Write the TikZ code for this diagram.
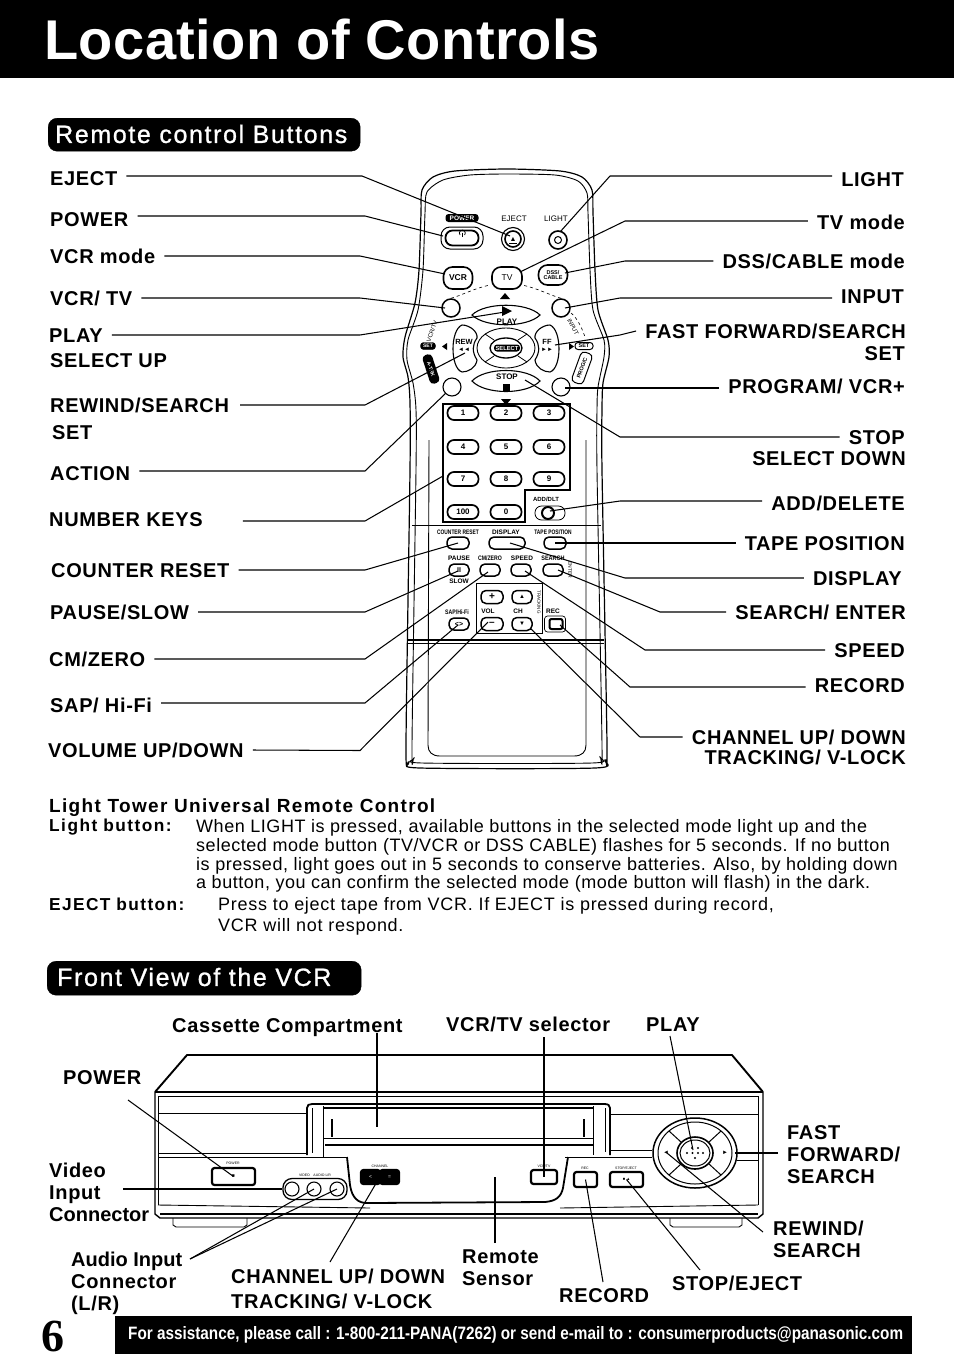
\documentclass[tikz,border=0pt]{standalone}
\usepackage{graphicx}
\usepackage{fontspec}
\setmainfont{Liberation Sans}
\newfontfamily\serifsix{Liberation Serif}
\usetikzlibrary{calc}
\tikzset{
 leader/.style={line width=1.05pt,line join=miter},
 lab/.style={font=\bfseries\fontsize{20}{22}\selectfont\addfontfeature{LetterSpace=3.2},inner ysep=0pt,inner xsep=9pt,text height=14pt,text depth=0pt},
 labl/.style={lab,anchor=west,xshift=-9pt},
 labr/.style={lab,anchor=east,xshift=9pt},
 body/.style={font=\fontsize{18}{20}\selectfont\addfontfeature{LetterSpace=3},anchor=west,inner sep=0pt,text height=12pt,text depth=0pt},
 bodyb/.style={body,font=\bfseries\fontsize{17.3}{20}\selectfont\addfontfeature{LetterSpace=8.5}},
 head/.style={font=\fontsize{25}{28}\selectfont\addfontfeature{LetterSpace=6.5,FakeBold=1},text=white,anchor=west,inner sep=0pt},
 pill/.style={fill=black,rounded corners=9pt,draw=black},
 rbtn/.style={draw,line width=1.5pt,rounded corners=5pt,minimum width=#1,minimum height=12pt,inner sep=0pt,fill=white},
 rbtn/.default=22pt,
 num/.style={draw,line width=1.7pt,rounded corners=6.5pt,minimum width=31pt,minimum height=14pt,inner sep=0pt,fill=white,font=\bfseries\fontsize{8}{9}\selectfont},
 circ/.style={draw,circle,line width=1.1pt,minimum size=#1,inner sep=0pt,fill=white},
 oval/.style={draw,line width=1.6pt,rounded corners=9pt,inner sep=0pt,fill=white,font=\bfseries\fontsize{8.5}{9}\selectfont},
 tiny/.style={font=\bfseries\fontsize{6.5}{7}\selectfont,inner sep=0pt},
 vbtn/.style={draw,line width=2.2pt,rounded corners=2.5pt,inner sep=0pt,fill=white},
 rl/.style={line width=0.9pt},
 vl/.style={line width=0.9pt},
 vt/.style={line width=2pt},
}
\begin{document}
\begin{tikzpicture}[x=1pt,y=-1pt]
\useasboundingbox (0,0) rectangle (954,1366);
% header
\node[fill=black,minimum width=954pt,minimum height=78pt,inner sep=0pt,anchor=north west] (band) at (0,0) {};
\node[font=\fontsize{56}{60}\selectfont\bfseries\addfontfeature{LetterSpace=0.8},text=white,anchor=west,inner sep=0pt] (title) at (44,39) {Location of Controls};
\node[pill,minimum width=312pt,minimum height=33pt,anchor=north west,inner sep=0pt] (pillA) at (48,118) {};
\node[head] (headA) at (55,134) {Remote control Buttons};
% remote body
\draw[line width=1.2pt] plot[smooth cycle,tension=.45] coordinates {(507,169) (560,171) (582,177) (592,190) (593,213) (595,270) (598,310) (608,340) (609,357) (603,383) (602,410) (602,470) (607,745) (605,760) (595,768) (420,768) (409,762) (406,745) (410,470) (410,403) (408,377) (403,357) (405,337) (415,303) (419,270) (421,213) (422,190) (433,177) (455,171)};
\draw[rl] plot[smooth cycle,tension=.45] coordinates {(507,174) (555,175) (578,181) (587,193) (588,213) (590,270) (593,310) (604,340) (604,357) (598,387) (597,410) (597,470) (602,745) (600,757) (592,763) (422,763) (414,758) (412,745) (416,470) (416,410) (413,383) (407,360) (408,340) (418,310) (423,270) (425,213) (427,192) (443,180) (470,175)};
\draw[rl] (429,440) -- (428,745) .. controls (428,752) and (432,756) .. (440,756) -- (574,756) .. controls (582,756) and (586,752) .. (586,745) -- (586,440);
\draw[rl] (412,525.5) -- (601,525.5);
\draw[rl,line width=1.2pt] (408,640) -- (604,640);
\draw[rl,line width=0.6pt] (408,643) -- (604,643);
% top of remote
\node[fill=black,rounded corners=3pt,text=white,font=\bfseries\fontsize{6.5}{7}\selectfont,minimum width=33pt,minimum height=8pt,inner sep=0pt] (kPowerLab) at (462,218) {POWER};
\node[tiny,font=\fontsize{8}{9}\selectfont] (kEjectLab) at (514,219) {EJECT};
\node[tiny,font=\fontsize{8}{9}\selectfont] (kLightLab) at (556,219) {LIGHT};
\node[draw,line width=1pt,rounded corners=9pt,minimum width=42pt,minimum height=22pt,inner sep=0pt] (kPowerO) at (462,238) {};
\node[draw,line width=1.8pt,rounded corners=7pt,minimum width=33pt,minimum height=15pt,inner sep=0pt] (kPower) at (462,238) {};
\draw[line width=0.8pt] (460,235) arc[start angle=220,end angle=-40,radius=3pt];
\draw[line width=0.8pt] (462.3,232.5) -- (462.3,237);
\node[circ=23pt] (kEjectO) at (513,239) {};
\node[circ=16pt,line width=1.6pt,font=\fontsize{7}{7}\selectfont] (kEject) at (513,239) {\bfseries ▲};
\draw[line width=1pt] (509,243.5) -- (517,243.5);
\node[circ=18pt,line width=1.6pt] (kLight) at (558,240) {};
\node[circ=7pt,line width=1pt] (kLightI) at (558,240) {};
\node[oval,minimum width=29pt,minimum height=22pt] (kVCR) at (458,278) {VCR};
\node[oval,minimum width=30pt,minimum height=22pt,font=\fontsize{8.5}{9}\selectfont] (kTV) at (507,278) {TV};
\node[oval,minimum width=29pt,minimum height=20pt,font=\bfseries\fontsize{5.5}{5.5}\selectfont,align=center] (kDSS) at (553,275) {DSS/\\CABLE};
\node[circ=18pt,line width=1.5pt] (kVcrTv) at (451,308) {};
\node[circ=18pt,line width=1.5pt] (kInput) at (561,308) {};
\node[circ=18pt,line width=1.1pt] (kAction) at (452,387) {};
\node[circ=18pt,line width=1.1pt] (kProg) at (561,387) {};
\draw[dashed,line width=0.6pt] (kVcrTv.north) .. controls (460,296) and (475,288) .. (490,285);
\draw[dashed,line width=0.6pt] (kInput.north) .. controls (552,296) and (537,288) .. (522,285);
\draw[dashed,line width=0.6pt] (571,313) .. controls (576,317) and (581,325) .. (585,337);
\fill (505,293) -- (510,299) -- (500,299) -- cycle;
% pad
\draw[line width=1.1pt] (472,315) .. controls (485,302) and (527,302) .. (540,315) .. controls (527,328) and (485,328) .. (472,315) -- cycle;
\draw[line width=1.1pt] (472,381) .. controls (485,367) and (527,367) .. (540,381) .. controls (527,395) and (485,395) .. (472,381) -- cycle;
\draw[line width=1.1pt] (462,325) .. controls (470,325) and (478,332) .. (477,338) .. controls (472,345) and (472,352) .. (477,360) .. controls (476,368) and (468,372) .. (462,372) .. controls (450,368) and (450,330) .. (462,325) -- cycle;
\draw[line width=1.1pt] (550,325) .. controls (542,325) and (534,332) .. (535,338) .. controls (540,345) and (540,352) .. (535,360) .. controls (536,368) and (544,372) .. (550,372) .. controls (562,368) and (562,330) .. (550,325) -- cycle;
\draw[rl] (506,348) ellipse[x radius=29pt,y radius=20pt];
\draw[rl,line width=1.3pt] (506,348) ellipse[x radius=16pt,y radius=10pt];
\draw[rl,line width=0.8pt] (485,334) -- (494,340) (527,334) -- (518,340) (485,362) -- (494,356) (527,362) -- (518,356);
\node[fill=black,rounded corners=3pt,text=white,font=\bfseries\fontsize{5.8}{6}\selectfont,minimum width=26pt,minimum height=7pt,inner sep=0pt] (kSelect) at (507,348) {SELECT};
\node[tiny,font=\bfseries\fontsize{8}{8}\selectfont] (kPlayLab) at (507,322) {PLAY};
\fill (502,306) -- (512,311) -- (502,316) -- cycle;
\node[tiny,font=\bfseries\fontsize{8}{8}\selectfont] (kStopLab) at (507,377) {STOP};
\fill (503,384) rectangle (510,391);
\fill (501,399) -- (511,399) -- (506,405) -- cycle;
\node[tiny,font=\bfseries\fontsize{7.5}{8}\selectfont] (kRewLab) at (464,342) {REW};
\node[tiny,font=\bfseries\fontsize{7.5}{8}\selectfont] (kFFLab) at (547,342) {FF};
\node[tiny,font=\fontsize{6}{6}\selectfont,text=black] (kRewS) at (464,350) {◄◄};
\node[tiny,font=\fontsize{6}{6}\selectfont,text=black] (kFFS) at (547,350) {►►};
\node[draw,fill=black,rounded corners=3pt,text=white,font=\bfseries\fontsize{5}{5}\selectfont,minimum width=15pt,minimum height=7pt,inner sep=0pt] (kSetL) at (428,346) {SET};
\node[draw,line width=1pt,rounded corners=3pt,fill=white,font=\bfseries\fontsize{5.5}{5}\selectfont,minimum width=18pt,minimum height=7pt,inner sep=0pt] (kSetR) at (584,346) {SET};
\fill (447,343) -- (447,350) -- (442,346.5) -- cycle;
\fill (569,343) -- (569,350) -- (574,346.5) -- cycle;
\node[fill=black,rounded corners=4pt,text=white,rotate=-72,font=\bfseries\fontsize{5}{5}\selectfont,minimum width=30pt,minimum height=10pt,inner sep=0pt] (kTrk) at (431,369) {A-TRK};
\node[draw,fill=white,line width=1pt,rounded corners=4pt,rotate=70,font=\bfseries\fontsize{5.5}{5}\selectfont,minimum width=32pt,minimum height=12pt,inner sep=0pt] (kProgLab) at (582,368) {PROG/C};
\node[tiny,rotate=70,font=\fontsize{6}{6}\selectfont] (kVcrTvLab) at (432,331) {VCR/TV};
\node[tiny,rotate=-62,font=\fontsize{6}{6}\selectfont] (kInputLab) at (573,327) {INPUT};
% number block
\draw[line width=1.8pt] (443,404) -- (570,404) -- (570,490) -- (525,490) -- (525,522) -- (443,522) -- cycle;
\node[num] (n1) at (463,413) {1};
\node[num] (n2) at (506,413) {2};
\node[num] (n3) at (549,413) {3};
\node[num] (n4) at (463,447) {4};
\node[num] (n5) at (506,447) {5};
\node[num] (n6) at (549,447) {6};
\node[num] (n7) at (463,479) {7};
\node[num] (n8) at (506,479) {8};
\node[num] (n9) at (549,479) {9};
\node[num] (n100) at (463,512) {100};
\node[num] (n0) at (506,512) {0};
\node[tiny,font=\bfseries\fontsize{6}{6}\selectfont] (kAddLab) at (546,499) {ADD/DLT};
\node[draw,line width=0.8pt,rounded corners=6.5pt,minimum width=30pt,minimum height=14pt,inner sep=0pt] (kAddP) at (550,513) {};
\node[circ=12pt,line width=2pt] (kAdd) at (548,513) {};
% labels of small buttons
\node[tiny] at (458,532) (tCR) {\scalebox{.75}[1]{COUNTER RESET}};
\node[tiny] at (506,532) (tDI) {DISPLAY};
\node[tiny] at (553,532) (tTP) {\scalebox{.75}[1]{TAPE POSITION}};
\node[rbtn=22pt] (kCR) at (458,543) {};
\node[rbtn=36pt] (kDisp) at (507,543) {};
\node[rbtn=22pt] (kTape) at (555,543) {};
\node[tiny] at (459,558) (tPA) {PAUSE};
\node[tiny] at (490,558) (tCM) {\scalebox{.8}[1]{CM/ZERO}};
\node[tiny] at (522,558) (tSP) {SPEED};
\node[tiny] at (553,558) (tSE) {\scalebox{.85}[1]{SEARCH}};
\node[rbtn=20pt,font=\bfseries\fontsize{7}{7}\selectfont] (kPause) at (459,570) {II};
\node[rbtn=20pt] (kCM) at (490,570) {};
\node[rbtn=20pt] (kSpeed) at (521,570) {};
\node[rbtn=20pt] (kSearch) at (553,570) {};
\node[tiny] at (459,581) (tSL) {SLOW};
\node[tiny,rotate=-90,font=\fontsize{5}{5}\selectfont] at (570,570) (tEN) {ENTER};
\node[draw,line width=0.7pt,minimum width=66pt,minimum height=50pt,inner sep=0pt,anchor=north west] (kBox) at (476,583) {};
\node[rbtn=22pt,minimum height=13pt,font=\bfseries\fontsize{10}{10}\selectfont] (kPlus) at (492,597) {+};
\node[rbtn=20pt,minimum height=13pt,font=\fontsize{6}{6}\selectfont] (kUp) at (522,597) {▲};
\node[rbtn=22pt,minimum height=13pt,font=\bfseries\fontsize{10}{10}\selectfont] (kMinus) at (492,624) {–};
\node[rbtn=20pt,minimum height=13pt,font=\fontsize{6}{6}\selectfont] (kDown) at (522,624) {▼};
\node[tiny] at (488,611) (tVO) {VOL};
\node[tiny] at (518,611) (tCH) {CH};
\node[tiny,rotate=-90,font=\fontsize{4.5}{5}\selectfont] at (539,602) (tTR) {TRACKING};
\node[tiny] at (457,612) (tSA) {\scalebox{.8}[1]{SAP/Hi-Fi}};
\node[rbtn=20pt,font=\bfseries\fontsize{7}{7}\selectfont] (kSap) at (459,624) {<>};
\node[tiny] at (553,611) (tRE) {REC};
\node[draw,line width=0.7pt,rounded corners=3pt,minimum width=21pt,minimum height=16pt,inner sep=0pt] (kRecO) at (555,624) {};
\node[draw,line width=2pt,rounded corners=2pt,minimum width=13pt,minimum height=10pt,inner sep=0pt] (kRec) at (556,624) {};
% left labels
\node[labl] (lEject) at (50,178) {EJECT};
\node[labl] (lPower) at (50,219) {POWER};
\node[labl] (lVcr) at (50,256) {VCR mode};
\node[labl] (lVcrTv) at (50,298) {VCR/ TV};
\node[labl] (lPlay) at (49,335) {PLAY};
\node[labl] (lSelUp) at (50,360) {SELECT UP};
\node[labl] (lRew) at (50,405) {REWIND/SEARCH};
\node[labl] (lSet) at (52,432) {SET};
\node[labl] (lAction) at (50,473) {ACTION};
\node[labl] (lNum) at (49,519) {NUMBER KEYS};
\node[labl] (lCounter) at (51,570) {COUNTER RESET};
\node[labl] (lPause) at (50,612) {PAUSE/SLOW};
\node[labl] (lCM) at (49,659) {CM/ZERO};
\node[labl] (lSap) at (50,705) {SAP/ Hi-Fi};
\node[labl] (lVol) at (48,750) {VOLUME UP/DOWN};
% right labels
\node[labr] (rLight) at (904,179) {LIGHT};
\node[labr] (rTV) at (905,222) {TV mode};
\node[labr] (rDSS) at (905,261) {DSS/CABLE mode};
\node[labr] (rInput) at (904,296) {INPUT};
\node[labr] (rFF) at (906,331) {FAST FORWARD/SEARCH};
\node[labr] (rSet) at (905,353) {SET};
\node[labr] (rProg) at (905,386) {PROGRAM/ VCR+};
\node[labr] (rStop) at (905,437) {STOP};
\node[labr] (rSelD) at (906,458) {SELECT DOWN};
\node[labr] (rAdd) at (905,503) {ADD/DELETE};
\node[labr] (rTape) at (905,543) {TAPE POSITION};
\node[labr] (rDisp) at (902,578) {DISPLAY};
\node[labr] (rSearch) at (906,612) {SEARCH/ ENTER};
\node[labr] (rSpeed) at (905,650) {SPEED};
\node[labr] (rRecord) at (905,685) {RECORD};
\node[labr] (rChan) at (906,737) {CHANNEL UP/ DOWN};
\node[labr] (rTrack) at (906,757) {TRACKING/ V-LOCK};
% tips
\coordinate (tipEject) at (510,236);
\coordinate (tipPower) at (443,236);
\coordinate (tipVcr) at (445,274);
\coordinate (tipVcrTv) at (445,308);
\coordinate (tipPlay) at (505,312);
\coordinate (tipRew) at (465,353);
\coordinate (tipAction) at (446,393);
\coordinate (tipNum) at (443,476);
\coordinate (tipCR) at (458,543);
\coordinate (tipPause) at (458,571);
\coordinate (tipCM) at (488,572);
\coordinate (tipSap) at (458,625);
\coordinate (tipVol) at (488,622);
\coordinate (tipLight) at (560,232);
\coordinate (tipTV) at (520,272);
\coordinate (tipDSS) at (565,273);
\coordinate (tipInput) at (565,308);
\coordinate (tipFF) at (555,345);
\coordinate (tipProg) at (565,388);
\coordinate (tipStop) at (525,380);
\coordinate (tipAdd) at (550,511);
\coordinate (tipTape) at (555,543);
\coordinate (tipDisp) at (510,543);
\coordinate (tipSearch) at (558,570);
\coordinate (tipSpeed) at (525,571);
\coordinate (tipRec) at (560,625);
\coordinate (tipChan) at (530,628);
% left leaders
\draw[leader] (lEject.east) ++(0,-2) -- (362,176) -- (tipEject);
\draw[leader] (lPower.east) ++(0,-3) -- (365,216) -- (tipPower);
\draw[leader] (lVcr.east) -- (360,256) -- (tipVcr);
\draw[leader] (lVcrTv.east) -- (360,298) -- (tipVcrTv);
\draw[leader] (lPlay.east) -- (360,335) -- (tipPlay);
\draw[leader] (lRew.east) ++(2,0) -- (365,405) -- (tipRew);
\draw[leader] (lAction.east) ++(0,-2) -- (365,471) -- (tipAction);
\draw[leader] (lNum.east) ++(31,2) -- (365,521) -- (tipNum);
\draw[leader] (lCounter.east) -- (365,570) -- (tipCR);
\draw[leader] (lPause.east) -- (365,612) -- (tipPause);
\draw[leader] (lCM.east) -- (365,659) -- (tipCM);
\draw[leader] (lSap.east) ++(0,-2) -- (365,703) -- (tipSap);
\draw[leader] (lVol.east) -- (360,750.5) -- (tipVol);
% right leaders
\draw[leader] (rLight.west) ++(0,-3) -- (610,176) -- (tipLight);
\draw[leader] (rTV.west) ++(0,-1) -- (625,221) -- (tipTV);
\draw[leader] (rDSS.west) -- (625,261) -- (tipDSS);
\draw[leader] (rInput.west) ++(0,2) -- (620,298) -- (tipInput);
\draw[leader] (rFF.west) -- (620,335) -- (tipFF);
\draw[leader] (rProg.west) ++(0,2) -- (tipProg);
\draw[leader] (rStop.west) -- (620,437) -- (tipStop);
\draw[leader] (rAdd.west) ++(0,-2) -- (620,501) -- (tipAdd);
\draw[leader] (rTape.west) -- (tipTape);
\draw[leader] (rDisp.west) -- (625,578) -- (tipDisp);
\draw[leader] (rSearch.west) -- (660,612) -- (tipSearch);
\draw[leader] (rSpeed.west) -- (645,650) -- (tipSpeed);
\draw[leader] (rRecord.west) ++(0,2) -- (630,687) -- (tipRec);
\draw[leader] (rChan.west) -- (640,737) -- (tipChan);
% text block
\node[bodyb,font=\bfseries\fontsize{19}{20}\selectfont\addfontfeature{LetterSpace=7}] (t0) at (49,806) {Light Tower Universal Remote Control};
\node[bodyb] (t1b) at (49,825) {Light\hspace{6pt}button:};
\node[body] (t1) at (196,826) {When LIGHT is pressed, available buttons in the selected mode light up and the};
\node[body] (t2) at (196,845) {selected mode button (TV/VCR or DSS CABLE) flashes for 5 seconds. If no button};
\node[body] (t3) at (196,864) {is pressed, light goes out in 5 seconds to conserve batteries. Also, by holding down};
\node[body] (t4) at (196,882) {a button, you can confirm the selected mode (mode button will flash) in the dark.};
\node[bodyb,font=\bfseries\fontsize{17.3}{20}\selectfont\addfontfeature{LetterSpace=8}] (t5b) at (49,904) {EJECT\hspace{6pt}button:};
\node[body,font=\fontsize{18}{20}\selectfont\addfontfeature{LetterSpace=4}] (t5) at (218,904) {Press to eject tape from VCR. If EJECT is pressed during record,};
\node[body,font=\fontsize{18}{20}\selectfont\addfontfeature{LetterSpace=4}] (t6) at (218,925) {VCR will not respond.};
% section 2
\node[pill,minimum width=314pt,minimum height=34pt,anchor=north west,inner sep=0pt] (pillB) at (47,961) {};
\node[head] (headB) at (57,977) {Front View of the VCR};
% VCR body
\draw[line width=1.9pt,line join=round] (155,1092) -- (187,1055) -- (732,1055) -- (763,1092);
\draw[vl,line width=1.4pt] (155,1092) -- (763,1092);
\draw[vl] (158,1096) -- (758,1096);
\draw[vl,line width=1.4pt] (155,1092) -- (155,1214) -- (160,1218) -- (758,1218) -- (763,1214) -- (763,1092);
\draw[vl] (158,1096) -- (158,1205) (758,1096) -- (758,1205);
\draw[vl] (158,1113) -- (306,1113) (610,1114) -- (758,1114);
\draw[vl] (158,1153) -- (307,1153) (610,1150) -- (652,1150);
\draw[vl] (158,1157) -- (348,1157);
\draw[vl] (565,1157) -- (652,1157) (737,1160) -- (758,1160);
\draw[vl] (158,1205) -- (370,1208) (560,1208) -- (758,1205);
\draw[vl,line width=1.4pt] (160,1214) -- (758,1214);
\draw[vl] (173,1218) -- (173,1225) -- (176,1227) -- (244,1227) -- (247,1225) -- (247,1218);
\draw[vl] (670,1218) -- (670,1225) -- (673,1227) -- (739,1227) -- (742,1225) -- (742,1218);
% cassette
\draw[vl,line width=1.8pt] (307,1155) -- (307,1108) .. controls (307,1105) and (309,1104) .. (312,1104) -- (604,1104) .. controls (608,1104) and (610,1105) .. (610,1108) -- (610,1155);
\draw[vt] (323,1108) -- (593,1108);
\draw[vl] (323,1106) -- (323,1157) (593,1106) -- (593,1155);
\draw[vl] (312,1108) -- (312,1153) (605,1108) -- (605,1152);
\draw[vl] (323,1138) -- (593,1138);
\draw[vt] (325,1145) -- (593,1145);
\draw[vl,line width=1.4pt] (332,1119) -- (332,1137) (584,1119) -- (584,1137);
% flap
\draw[line width=1.8pt] (347,1157) -- (350,1185) .. controls (352,1198) and (358,1203) .. (367,1203) -- (545,1202) .. controls (556,1201) and (561,1197) .. (563,1188) -- (568,1157);
% panel buttons
\node[vbtn,minimum width=43pt,minimum height=17pt,font=\fontsize{5}{5}\selectfont] (vPower) at (233.5,1176.5) {■};
\node[tiny,font=\fontsize{3.5}{4}\selectfont] (vPowerLab) at (233,1163) {POWER};
\node[draw,line width=1.3pt,rounded corners=9pt,minimum width=64pt,minimum height=21pt,inner sep=0pt] (vJack) at (315,1189) {};
\node[circ=14pt] (vJ1) at (292,1189) {};
\node[circ=14pt] (vJ2) at (314,1189) {};
\node[circ=14pt] (vJ3) at (337,1189) {};
\node[tiny,font=\fontsize{3.5}{4}\selectfont] (vJLab) at (315,1175) {VIDEO\quad AUDIO L/R};
\node[vbtn,minimum width=19pt,minimum height=14pt,fill=black,text=white,font=\fontsize{5}{5}\selectfont] (vCh1) at (370.5,1177) {<};
\node[vbtn,minimum width=19pt,minimum height=14pt,fill=black,text=white,font=\fontsize{5}{5}\selectfont] (vCh2) at (389.5,1177) {=};
\node[tiny,font=\fontsize{3.5}{4}\selectfont] (vChLab) at (380,1166) {CHANNEL};
\node[vbtn,minimum width=26pt,minimum height=14pt] (vSel) at (544,1177) {};
\node[tiny,font=\fontsize{3.5}{4}\selectfont] (vSelLab) at (544,1166) {VCR/TV};
\node[vbtn,minimum width=23pt,minimum height=15pt] (vRec) at (585.5,1179.5) {};
\node[tiny,font=\fontsize{3.5}{4}\selectfont] (vRecLab) at (585,1168) {REC};
\node[vbtn,minimum width=33pt,minimum height=15pt,font=\fontsize{4}{4}\selectfont] (vStop) at (626.5,1179.5) {■ ▲};
\node[tiny,font=\fontsize{3.5}{4}\selectfont] (vStopLab) at (626,1168) {STOP/EJECT};
% selector wheel
\draw[line width=1.5pt] (695,1153) ellipse[x radius=42pt,y radius=35pt];
\draw[line width=1pt] (695,1153) ellipse[x radius=37pt,y radius=31pt];
\draw[line width=1.6pt] (695,1153) ellipse[x radius=18pt,y radius=16pt];
\draw[line width=1pt] (695,1153) ellipse[x radius=15pt,y radius=13pt];
\draw[line width=1pt] (669,1131) -- (681,1142) (721,1131) -- (709,1142) (669,1175) -- (681,1164) (721,1175) -- (709,1164);
\fill (692,1148) circle[radius=1.1pt] (698,1148) circle[radius=1.1pt] (687,1153) circle[radius=1.1pt] (692.5,1153) circle[radius=1.1pt] (698,1153) circle[radius=1.1pt] (703,1153) circle[radius=1.1pt] (695,1158) circle[radius=1.1pt];
\node[tiny,font=\fontsize{6}{6}\selectfont] (vFFi) at (725,1153) {►};
\node[tiny,font=\fontsize{6}{6}\selectfont] (vRWi) at (666,1153) {◄};
% VCR labels
\node[labl] (aCass) at (172,1025) {Cassette Compartment};
\node[labl] (aSel) at (446,1024) {VCR/TV selector};
\node[labl] (aPlay) at (646,1024) {PLAY};
\node[labl] (aPower) at (63,1077) {POWER};
\node[labl] (aVid1) at (49,1170) {Video};
\node[labl] (aVid2) at (49,1192) {Input};
\node[labl,font=\bfseries\fontsize{20}{22}\selectfont] (aVid3) at (49,1214) {Connector};
\node[labl,font=\bfseries\fontsize{20}{22}\selectfont] (aAud1) at (71,1259) {Audio Input};
\node[labl] (aAud2) at (71,1281) {Connector};
\node[labl] (aAud3) at (71,1303) {(L/R)};
\node[labl] (aCh1) at (231,1276) {CHANNEL UP/ DOWN};
\node[labl] (aCh2) at (231,1301) {TRACKING/ V-LOCK};
\node[labl] (aRem1) at (462,1256) {Remote};
\node[labl] (aRem2) at (462,1278) {Sensor};
\node[labl] (aRecord) at (559,1295) {RECORD};
\node[labl] (aStop) at (672,1283) {STOP/EJECT};
\node[labl] (aFF1) at (787,1132) {FAST};
\node[labl] (aFF2) at (787,1154) {FORWARD/};
\node[labl] (aFF3) at (787,1176) {SEARCH};
\node[labl] (aRW1) at (773,1228) {REWIND/};
\node[labl] (aRW2) at (773,1250) {SEARCH};
% VCR leaders
\coordinate (vCass) at (377,1127);
\coordinate (vCassE) at (377,1033);
\coordinate (vSelE) at (544,1037);
\coordinate (vPlayE) at (670,1036);
\coordinate (vPowE) at (128,1100);
\coordinate (vVidE) at (123,1189);
\coordinate (vSensor) at (495,1177);
\coordinate (vSensorE) at (495,1243);
\coordinate (vA1) at (190,1259);
\coordinate (vChE) at (330,1262);
\coordinate (vChTop) at (378,1180);
\coordinate (vRecE) at (603,1282);
\coordinate (vStopE) at (700,1270);
\coordinate (vPlayTip) at (693,1150);
\coordinate (vRwE) at (763,1232);
\coordinate (vRwTip) at (667,1153);
\coordinate (vFfE) at (778,1153);
\coordinate (vFfTip) at (735,1153);
\draw[leader] (vCassE) -- (vCass);
\draw[leader] (vSelE) -- (vSel.center);
\draw[leader] (vPlayE) -- (vPlayTip);
\draw[leader] (vPowE) -- (vPower.center);
\draw[leader] (vVidE) -- (vJack.west);
\draw[leader] (vA1) -- (vJ2.center);
\draw[leader] (vA1) -- (vJ3.center);
\draw[leader] (vChE) -- (vChTop);
\draw[leader] (vSensorE) -- (vSensor);
\draw[leader] (vRecE) -- (vRec.center);
\draw[leader] (vStopE) -- (vStop.center);
\draw[leader] (vFfE) -- (vFfTip);
\draw[leader] (vRwE) -- (vRwTip);
% footer
\node[font=\serifsix\bfseries\fontsize{46}{46}\selectfont,anchor=west,inner sep=0pt] (six) at (41,1336) {6};
\node[fill=black,minimum width=797pt,minimum height=38pt,inner sep=0pt,anchor=north west] (foot) at (115,1316) {};
\node[text=white,font=\bfseries\fontsize{16}{18}\selectfont,inner sep=0pt,anchor=west] (footT) at (128,1335) {\resizebox{775pt}{13pt}{For assistance, please call : 1-800-211-PANA(7262) or send e-mail to : consumerproducts@panasonic.com}};
\end{tikzpicture}
\end{document}
